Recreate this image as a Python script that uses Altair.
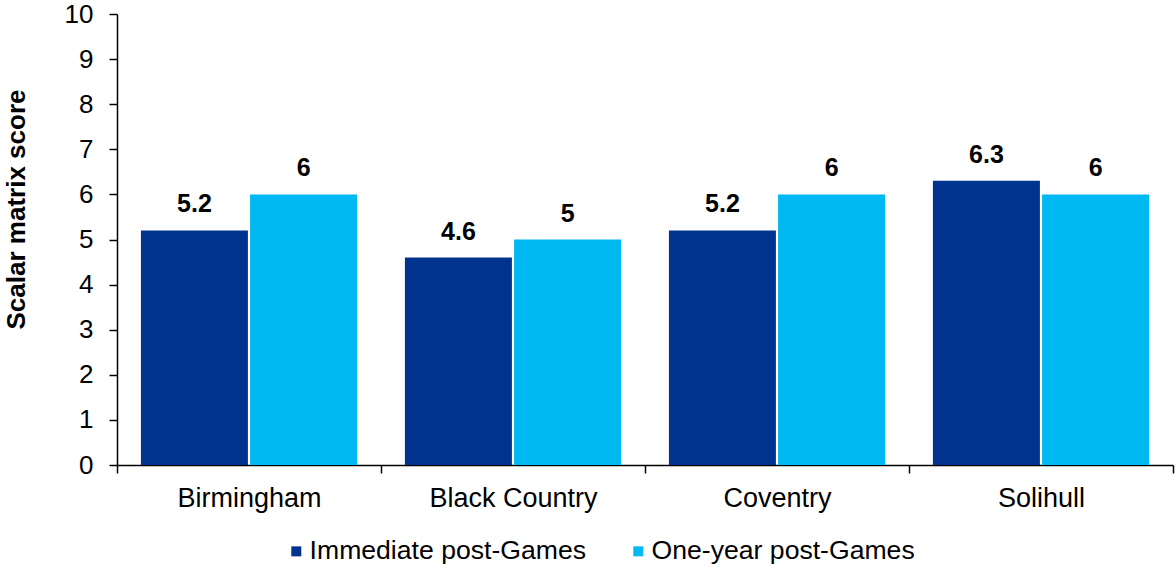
import altair as alt
import pandas as pd

regions = ["Birmingham", "Black Country", "Coventry", "Solihull"]
series = ["Immediate post-Games", "One-year post-Games"]
immediate = [5.2, 4.6, 5.2, 6.3]
one_year = [6, 5, 6, 6]
y_ticks = list(range(0, 11))
colors = ["#00338D", "#00B9F2"]

rows = []
for i, region in enumerate(regions):
    rows.append({"region": region, "series": series[0], "score": immediate[i]})
    rows.append({"region": region, "series": series[1], "score": one_year[i]})
df = pd.DataFrame(rows)

FONT = "Liberation Sans"

x_enc = alt.X(
    "region:N",
    sort=regions,
    scale=alt.Scale(paddingInner=0, paddingOuter=0),
    axis=alt.Axis(
        title=None,
        labelAngle=0,
        labelFontSize=27,
        labelFont=FONT,
        labelColor="#000000",
        labelPadding=12,
        tickBand="extent",
        tickSize=8,
        tickColor="#000000",
        tickWidth=1.5,
        domainColor="#000000",
        domainWidth=1.5,
    ),
)
y_enc = alt.Y(
    "score:Q",
    scale=alt.Scale(domain=[0, 10], nice=False),
    axis=alt.Axis(
        title="Scalar matrix score",
        titleFont=FONT,
        titleFontSize=26,
        titleFontWeight="bold",
        titleColor="#000000",
        titleX=-101,
        titleY=195,
        titleBaseline="middle",
        titleAngle=270,
        values=y_ticks,
        grid=False,
        labelFontSize=26,
        labelFont=FONT,
        labelColor="#000000",
        labelPadding=16,
        tickSize=8,
        tickColor="#000000",
        tickWidth=1.5,
        domainColor="#000000",
        domainWidth=1.5,
    ),
)
offset_enc = alt.XOffset(
    "series:N",
    sort=series,
    scale=alt.Scale(paddingInner=0.02, paddingOuter=0.219),
)

bars = alt.Chart(df).mark_bar().encode(
    x=x_enc,
    y=y_enc,
    xOffset=offset_enc,
    color=alt.Color(
        "series:N",
        sort=series,
        scale=alt.Scale(domain=series, range=colors),
        legend=alt.Legend(
            title=None,
            orient="none",
            direction="horizontal",
            legendX=166,
            legendY=524,
            symbolType="square",
            symbolSize=100,
            symbolStrokeWidth=0,
            labelFont=FONT,
            labelFontSize=26.6,
            labelColor="#000000",
            labelOffset=0,
            labelLimit=0,
            columnPadding=39,
        ),
    ),
)

labels = alt.Chart(df).mark_text(
    font=FONT,
    fontSize=25,
    fontWeight="bold",
    color="#000000",
    baseline="alphabetic",
    dy=-18,
).encode(
    x=alt.X("region:N", sort=regions),
    y=alt.Y("score:Q"),
    xOffset=alt.XOffset("series:N", sort=series),
    text=alt.Text("score:Q"),
)

chart = (
    alt.layer(bars, labels)
    .properties(
        width=1056,
        height=451,
        autosize=alt.AutoSizeParams(type="none"),
        padding={"left": 117, "top": 14, "right": 2, "bottom": 103},
        background="#ffffff",
    )
    .configure_view(stroke=None)
)

chart.save("out.html", embed_options={"renderer": "svg", "actions": False})
